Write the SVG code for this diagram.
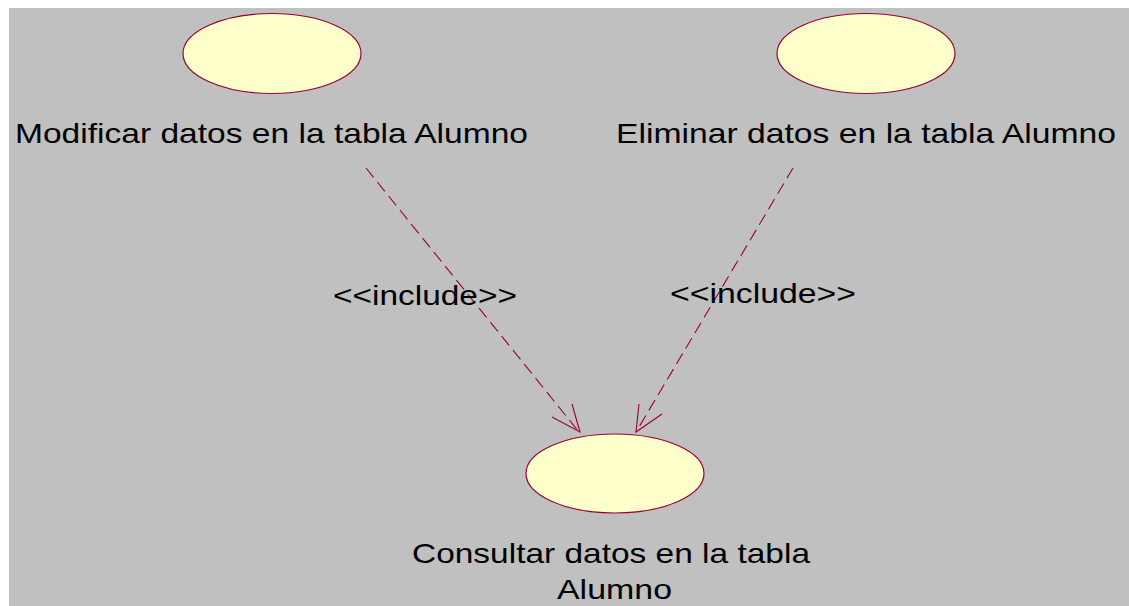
<svg xmlns="http://www.w3.org/2000/svg" width="1129" height="606" viewBox="0 0 1129 606">
<style>
.uc{fill:#FFFFCC;stroke:#990033;stroke-width:1.2}
.lbl{font-family:"Liberation Sans",Arial,sans-serif;font-size:28px;fill:#000}
.dep{fill:none;stroke:#990033;stroke-width:1.1;stroke-dasharray:12,6}
.head{fill:none;stroke:#990033;stroke-width:1.1}
</style>
<rect x="0" y="0" width="1129" height="606" fill="#FFFFFF"/>
<rect x="9" y="8" width="1120" height="598" fill="#C0C0C0"/>
<g id="connectors">
<line class="dep" x1="366" y1="168" x2="579" y2="432"/>
<polyline class="head" points="552,417 580,432 572,404"/>
<text class="lbl" x="333" y="305" textLength="184" lengthAdjust="spacingAndGlyphs">&lt;&lt;include&gt;&gt;</text>
<line class="dep" x1="793" y1="168" x2="636" y2="432"/>
<polyline class="head" points="639,404 636,432 662,414"/>
<text class="lbl" x="670" y="303" textLength="186" lengthAdjust="spacingAndGlyphs">&lt;&lt;include&gt;&gt;</text>
</g>
<g id="modificar">
<ellipse class="uc" cx="272" cy="53.5" rx="89" ry="40"/>
<text class="lbl" x="15" y="143" textLength="513" lengthAdjust="spacingAndGlyphs">Modificar datos en la tabla Alumno</text>
</g>
<g id="eliminar">
<ellipse class="uc" cx="866" cy="53.5" rx="89" ry="40"/>
<text class="lbl" x="616" y="143" textLength="500" lengthAdjust="spacingAndGlyphs">Eliminar datos en la tabla Alumno</text>
</g>
<g id="consultar">
<ellipse class="uc" cx="615" cy="473.5" rx="89" ry="39.5"/>
<text class="lbl" x="412" y="563" textLength="398" lengthAdjust="spacingAndGlyphs">Consultar datos en la tabla</text>
<text class="lbl" x="557" y="599" textLength="115" lengthAdjust="spacingAndGlyphs">Alumno</text>
</g>
</svg>
